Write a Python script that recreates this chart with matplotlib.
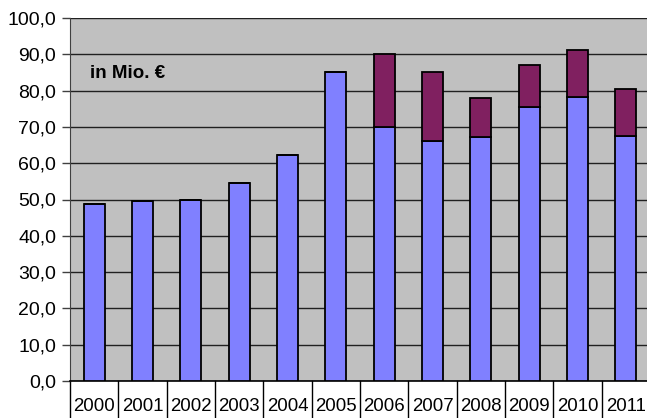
import numpy as np
import matplotlib.pyplot as plt

plt.rcParams['font.family'] = ['Liberation Sans', 'DejaVu Sans']

years = ['2000', '2001', '2002', '2003', '2004', '2005',
         '2006', '2007', '2008', '2009', '2010', '2011']
base = [48.7, 49.5, 49.9, 54.5, 62.2, 85.0, 70.0, 66.1, 67.2, 75.5, 78.3, 67.6]
extra = [0, 0, 0, 0, 0, 0, 20.0, 18.9, 10.7, 11.6, 12.8, 12.8]

fig = plt.figure(figsize=(6.47, 4.18), dpi=100)
ax = fig.add_axes([70 / 647, 37 / 418, 580 / 647, 363 / 418])
ax.set_facecolor('#C0C0C0')

x = np.arange(len(years))
ax.bar(x, base, width=0.44, color='#8080FF', edgecolor='black', linewidth=1.3, zorder=3)
ax.bar(x, extra, bottom=base, width=0.44, color='#802060', edgecolor='black',
       linewidth=1.3, zorder=3)

ax.set_xlim(-0.5, len(years) - 0.5)
ax.set_ylim(0, 100)
ax.set_yticks(np.arange(0, 101, 10))
ax.set_yticklabels([f'{v:.1f}'.replace('.', ',') for v in range(0, 101, 10)], fontsize=14)
ax.yaxis.grid(True, color='#202020', linewidth=1.0, zorder=1)
ax.tick_params(axis='y', length=6, width=1, color='#404040', pad=4)

# year labels sit in a row of cells under the plot
ax.set_xticks(x)
ax.set_xticklabels(years, fontsize=13.4)
ax.tick_params(axis='x', length=0, pad=12)
for b in np.arange(len(years) + 1) - 0.5:
    ax.plot([b, b], [0, -0.11], color='black', linewidth=1,
            transform=ax.get_xaxis_transform(), clip_on=False)

for side in ['top', 'right']:
    ax.spines[side].set_visible(False)
ax.spines['left'].set_color('#404040')
ax.spines['bottom'].set_color('black')
ax.spines['bottom'].set_linewidth(1.2)

ax.text(90, 418 - 78, 'in Mio. €', transform=None, fontsize=13.5,
        fontweight='bold', ha='left', va='baseline')

fig.savefig('out.png', dpi=100)
